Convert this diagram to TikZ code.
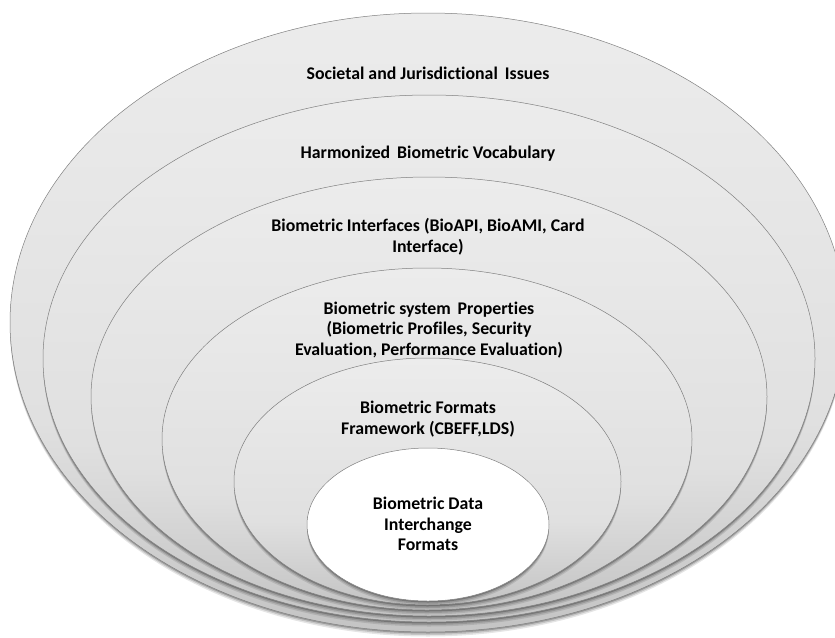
\documentclass[tikz,border=0pt]{standalone}
\usepackage{fontspec}
\setmainfont{Carlito}[Ligatures=NoCommon]
\usetikzlibrary{shapes.geometric,shadows}

\definecolor{ringtop}{RGB}{236,236,236}
\definecolor{ringmid}{RGB}{224,224,224}
\definecolor{ringbottom}{RGB}{196,196,196}
\definecolor{ringline}{RGB}{128,128,128}

% light grey ramp, darkening only towards the lower rim
\pgfdeclareverticalshading{ringshade}{100bp}{%
  color(0bp)=(ringbottom); color(25bp)=(ringbottom);
  color(42bp)=(ringmid); color(75bp)=(ringtop); color(100bp)=(ringtop)}

\tikzset{
  % soft shadow under the lower rim, built from a few offset copies
  rimshadow/.style={
    general shadow={fill=black, opacity=0.10, shadow yshift=-4.5pt},
    general shadow={fill=black, opacity=0.14, shadow yshift=-3pt},
    general shadow={fill=black, opacity=0.22, shadow yshift=-1.5pt}},
  layer/.style={ellipse, inner sep=0pt, draw=ringline, line width=0.5pt,
    rimshadow},
  ring/.style={layer, shading=ringshade},
  core/.style={layer, fill=white},
  label/.style={font=\bfseries\fontsize{17.8}{20.6}\selectfont, align=center,
    text=black, inner sep=0pt}
}

\begin{document}
\begin{tikzpicture}[x=1pt, y=-1pt]
  \useasboundingbox (0,0) rectangle (835,637);

  % nested layers, outermost first
  \node[ring, minimum width=836pt, minimum height=619pt] (l1) at (428,322.5) {};
  \node[ring, minimum width=772pt, minimum height=527pt] (l2) at (429,358.5) {};
  \node[ring, minimum width=676pt, minimum height=439pt] (l3) at (429,396.5) {};
  \node[ring, minimum width=530pt, minimum height=342pt] (l4) at (427,439) {};
  \node[ring, minimum width=387pt, minimum height=247pt] (l5) at (427.5,481.5) {};
  \node[core, minimum width=242pt, minimum height=153pt] (l6) at (428,524.5) {};

  % layer titles
  \node[label] (t1) at (428,73) {Societal and Jurisdictional\, Issues};
  \node[label] (t2) at (428,153.5) {Harmonized\, Biometric Vocabulary};
  \node[label] (t3) at (428,236.5) {Biometric Interfaces (BioAPI, BioAMI, Card\\Interface)};
  \node[label] (t4) at (429,330) {Biometric system\, Properties\\(Biometric Profiles, Security\\Evaluation, Performance Evaluation)};
  \node[label] (t5) at (428,419) {Biometric Formats\\Framework (CBEFF,LDS)};
  \node[label] (t6) at (428,524) {Biometric Data\\Interchange\\Formats};
\end{tikzpicture}
\end{document}
